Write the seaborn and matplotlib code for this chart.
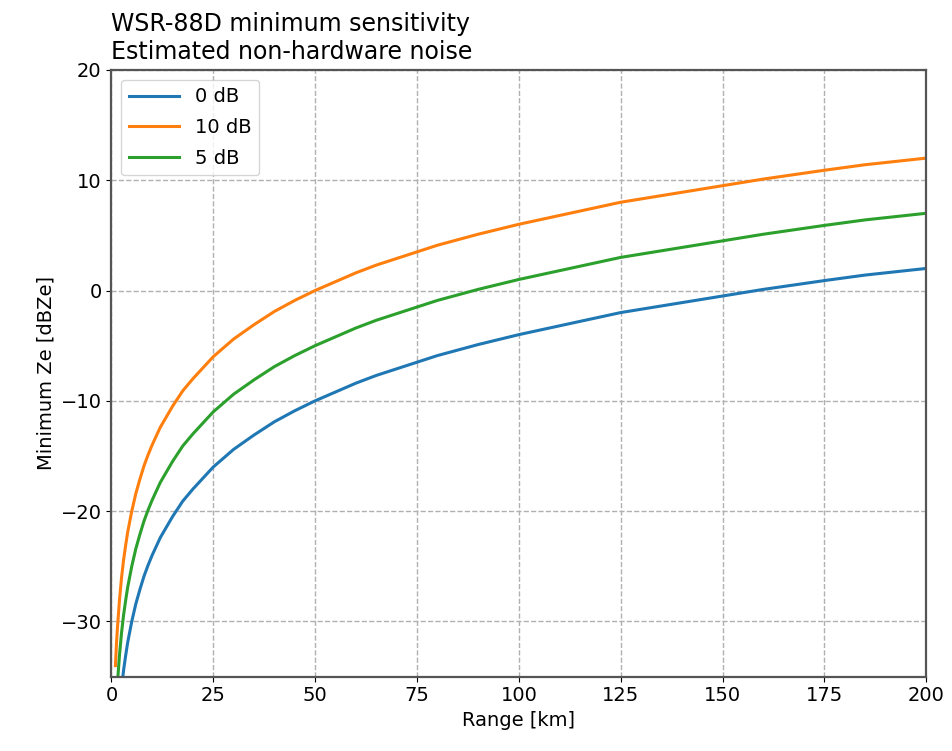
import matplotlib
matplotlib.use("Agg")
import matplotlib.pyplot as plt
import seaborn as sns
import pandas as pd

# range [km] and min Ze [dBZe]
range_km = [1, 1.25, 1.5, 2, 2.5, 3, 3.5, 4, 5, 6, 7, 8, 9, 10, 12, 15, 17.5, 20,
            25, 30, 35, 40, 45, 50, 55, 60, 65, 70, 75, 80, 90, 100, 110, 125,
            135, 150, 160, 175, 185, 200]
ze_10db = [-34.0, -32.0, -30.5, -28.0, -26.0, -24.4, -23.1, -21.9, -20.0, -18.4,
           -17.1, -15.9, -14.9, -14.0, -12.4, -10.5, -9.1, -8.0, -6.0, -4.4,
           -3.1, -1.9, -0.9, 0.0, 0.8, 1.6, 2.3, 2.9, 3.5, 4.1, 5.1, 6.0, 6.8,
           8.0, 8.6, 9.5, 10.1, 10.9, 11.4, 12.0]
ze_5db = [-39.0, -37.0, -35.5, -33.0, -31.0, -29.4, -28.1, -26.9, -25.0, -23.4,
          -22.1, -20.9, -19.9, -19.0, -17.4, -15.5, -14.1, -13.0, -11.0, -9.4,
          -8.1, -6.9, -5.9, -5.0, -4.2, -3.4, -2.7, -2.1, -1.5, -0.9, 0.1, 1.0,
          1.8, 3.0, 3.6, 4.5, 5.1, 5.9, 6.4, 7.0]
ze_0db = [-44.0, -42.0, -40.5, -38.0, -36.0, -34.4, -33.1, -31.9, -30.0, -28.4,
          -27.1, -25.9, -24.9, -24.0, -22.4, -20.5, -19.1, -18.0, -16.0, -14.4,
          -13.1, -11.9, -10.9, -10.0, -9.2, -8.4, -7.7, -7.1, -6.5, -5.9, -4.9,
          -4.0, -3.2, -2.0, -1.4, -0.5, 0.1, 0.9, 1.4, 2.0]

labels = ["0 dB", "10 dB", "5 dB"]
series = [ze_0db, ze_10db, ze_5db]
x_ticks = [0, 25, 50, 75, 100, 125, 150, 175, 200]
y_ticks = [-30, -20, -10, 0, 10, 20]

df = pd.concat([pd.DataFrame({"range": range_km, "ze": s, "noise": lab})
                for lab, s in zip(labels, series)], ignore_index=True)

plt.rcParams["font.size"] = 14
fig, ax = plt.subplots(figsize=(9.52, 7.51), dpi=100)
sns.lineplot(data=df, x="range", y="ze", hue="noise", hue_order=labels,
             palette=["#1f77b4", "#ff7f0e", "#2ca02c"], linewidth=2.2, ax=ax)

ax.set_xlim(0, 200)
ax.set_ylim(-35, 20)
ax.set_xticks(x_ticks)
ax.set_yticks(y_ticks)
ax.grid(True, linestyle="--", color="#b0b0b0", linewidth=1)
for sp in ax.spines.values():
    sp.set_color("#555555")
    sp.set_linewidth(1.6)
ax.set_xlabel("Range [km]")
ax.set_ylabel("Minimum Ze [dBZe]")
ax.set_title("WSR-88D minimum sensitivity\nEstimated non-hardware noise",
             loc="left", fontsize=17, pad=8)
ax.legend(loc="upper left", fontsize=14, handlelength=2.6, labelspacing=0.6)

fig.subplots_adjust(left=0.117, right=0.973, top=0.907, bottom=0.099)
fig.savefig("out.png", dpi=100)
